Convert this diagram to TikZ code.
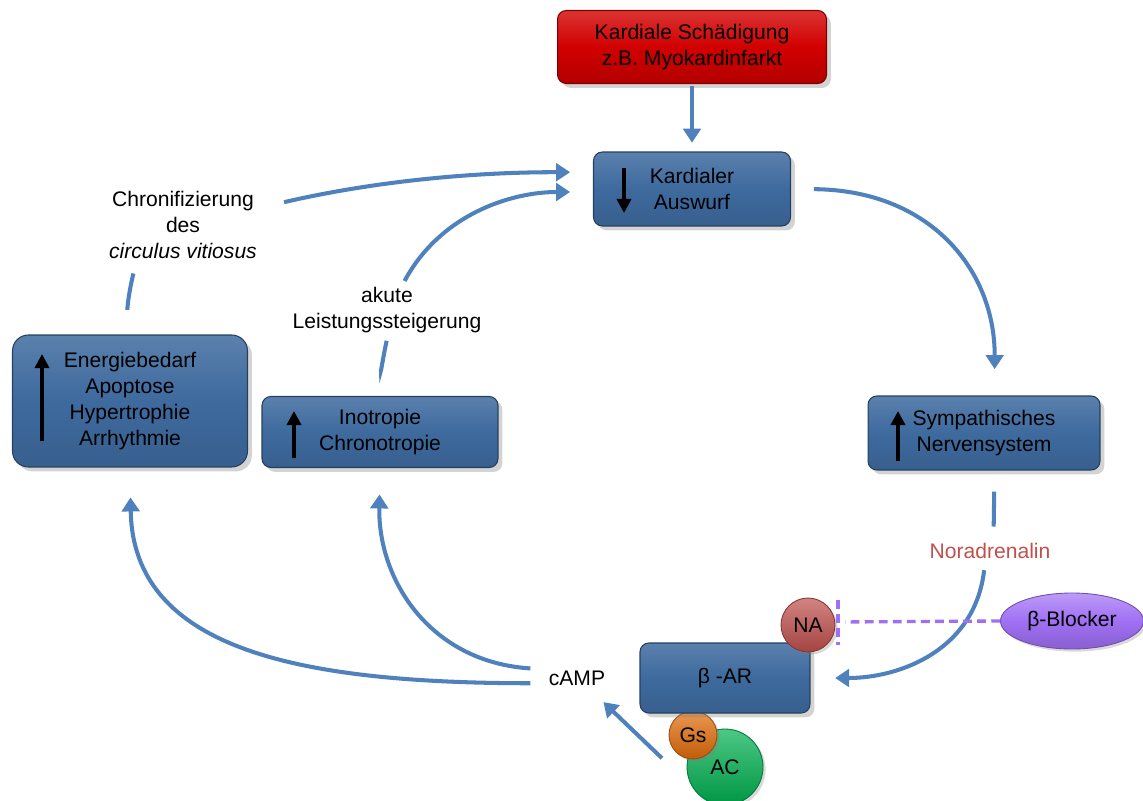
\documentclass[tikz,border=0pt]{standalone}
\usepackage{fontspec}
\setmainfont{Liberation Sans}
\usetikzlibrary{arrows.meta,shapes.geometric,shadows}
\definecolor{boxblue}{HTML}{3E6A9E}
\definecolor{lineblue}{HTML}{4F81BD}
\definecolor{damred}{HTML}{D20000}
\definecolor{nared}{HTML}{C0504D}
\definecolor{gsorange}{HTML}{E36C09}
\definecolor{acgreen}{HTML}{00B050}
\definecolor{blockpurple}{HTML}{A070F4}
\tikzset{
  box/.style={draw=boxblue!60!black,line width=0.6pt,rounded corners=5pt,align=center,
    top color=boxblue!85!white,bottom color=boxblue!90!black,middle color=boxblue,
    drop shadow={shadow xshift=2.5pt,shadow yshift=-2.5pt,opacity=0.35}},
  ball/.style={circle,draw=#1!70!black,line width=0.5pt,inner sep=0pt,
    top color=#1!70!white,bottom color=#1!85!black,
    drop shadow={shadow xshift=1.5pt,shadow yshift=-1.5pt,opacity=0.3}},
  flow/.style={draw=lineblue,line width=2.3pt,-{Triangle[length=8pt,width=10pt]}},
  link/.style={draw=lineblue,line width=2.3pt},
  inarrow/.style={draw=black,line width=2.3pt,-{Triangle[length=8pt,width=8pt]}},
  inhib/.style={draw=blockpurple,line width=1.9pt,dash pattern=on 5pt off 3pt}
}
\begin{document}
\begin{tikzpicture}[x=0.02cm,y=-0.02cm,font=\fontsize{12}{14.8}\selectfont]
\useasboundingbox (0,0) rectangle (1143,801);

\node[box,draw=damred!60!black,top color=damred!80!white,bottom color=damred!85!black,middle color=damred,
  minimum width=5.38cm,minimum height=1.46cm] (damage) at (692,47) {Kardiale Schädigung\\z.B. Myokardinfarkt};
\node[box,minimum width=3.94cm,minimum height=1.48cm] (output) at (692,189) {Kardialer\\Auswurf};
\node[box,minimum width=4.64cm,minimum height=1.48cm] (symp) at (984,433) {Sympathisches\\Nervensystem};
\node[box,rounded corners=9pt,minimum width=4.7cm,minimum height=2.64cm] (energy) at (130,401)
  {Energiebedarf\\Apoptose\\Hypertrophie\\Arrhythmie};
\node[box,minimum width=4.72cm,minimum height=1.42cm] (ino) at (380,432) {Inotropie\\Chronotropie};

\node[ball=acgreen,minimum size=1.52cm] (ac) at (725,767) {AC};
\node[ball=gsorange,minimum size=0.96cm] (gs) at (693,735) {Gs};
\node[box,minimum width=3.4cm,minimum height=1.4cm] (bar) at (725,678) {β -AR};
\node[ball=nared,minimum size=1.08cm] (na) at (808,625) {NA};
\node[ellipse,draw=blockpurple!70!black,line width=0.5pt,top color=blockpurple!70!white,bottom color=blockpurple!85!black,
  middle color=blockpurple,minimum width=2.8cm,minimum height=1.12cm,
  drop shadow={shadow xshift=1.5pt,shadow yshift=-1.5pt,opacity=0.3}] (blocker) at (1072,621) {β-Blocker};

\node (camp) at (577,678) {cAMP};
\node[text=nared] (nora) at (990,551) {Noradrenalin};
\node[align=center] (acute) at (387,310) {akute\\Leistungssteigerung};
\node[align=center] (chron) at (183,225) {Chronifizierung\\des\\\textit{circulus vitiosus}};

\draw[inarrow] (624,168) -- (624,213);
\draw[inarrow] (898,461) -- (898,411);
\draw[inarrow] (42,441) -- (42,354);
\draw[inarrow] (294,458) -- (294,411);

\draw[flow,shorten <=1pt,shorten >=5pt] (damage.south) -- (output.north);
\draw[flow,shorten <=13pt,shorten >=15pt] (output.east) .. controls (930,190) and (995,270) .. ([xshift=6pt]symp.north);
\draw[link,shorten <=12pt,shorten >=6pt] ([xshift=6pt]symp.south) -- ([xshift=2pt]nora.north);
\draw[flow,shorten <=3pt,shorten >=14pt] ([xshift=-3pt]nora.south) .. controls (975,650) and (900,678) .. (bar.east);

\coordinate (block) at (838,622);
\draw[inhib,shorten >=4pt] (blocker.west) -- (block);
\draw[inhib] (block) ++(0,-22) -- ++(0,45);

\draw[flow] ([xshift=-14pt,yshift=5pt]ac.west) -- ([xshift=-4.5pt,yshift=-6pt]camp.south east);
\draw[flow,shorten <=7pt,shorten >=17pt] ([yshift=-3pt]camp.west) .. controls (300,683) and (133,650) .. (energy.south);
\draw[flow,shorten <=7pt,shorten >=15pt] ([yshift=5pt]camp.west) .. controls (430,662) and (378,580) .. (ino.south);

\draw[link,shorten <=15pt,shorten >=1pt] (ino.north) to[bend left=5] (acute.south);
\draw[flow,shorten >=13pt] ([xshift=10pt]acute.north) .. controls (440,215) and (510,192) .. ([yshift=-1.7pt]output.west);
\draw[link,shorten <=14pt,shorten >=5pt] ([xshift=-1pt]energy.north) to[bend left=8] ([xshift=-27pt]chron.south);
\draw[flow,shorten >=13pt] ([xshift=12pt,yshift=13pt]chron.east) .. controls (380,180) and (480,172) .. ([yshift=9.5pt]output.west);
\end{tikzpicture}
\end{document}
